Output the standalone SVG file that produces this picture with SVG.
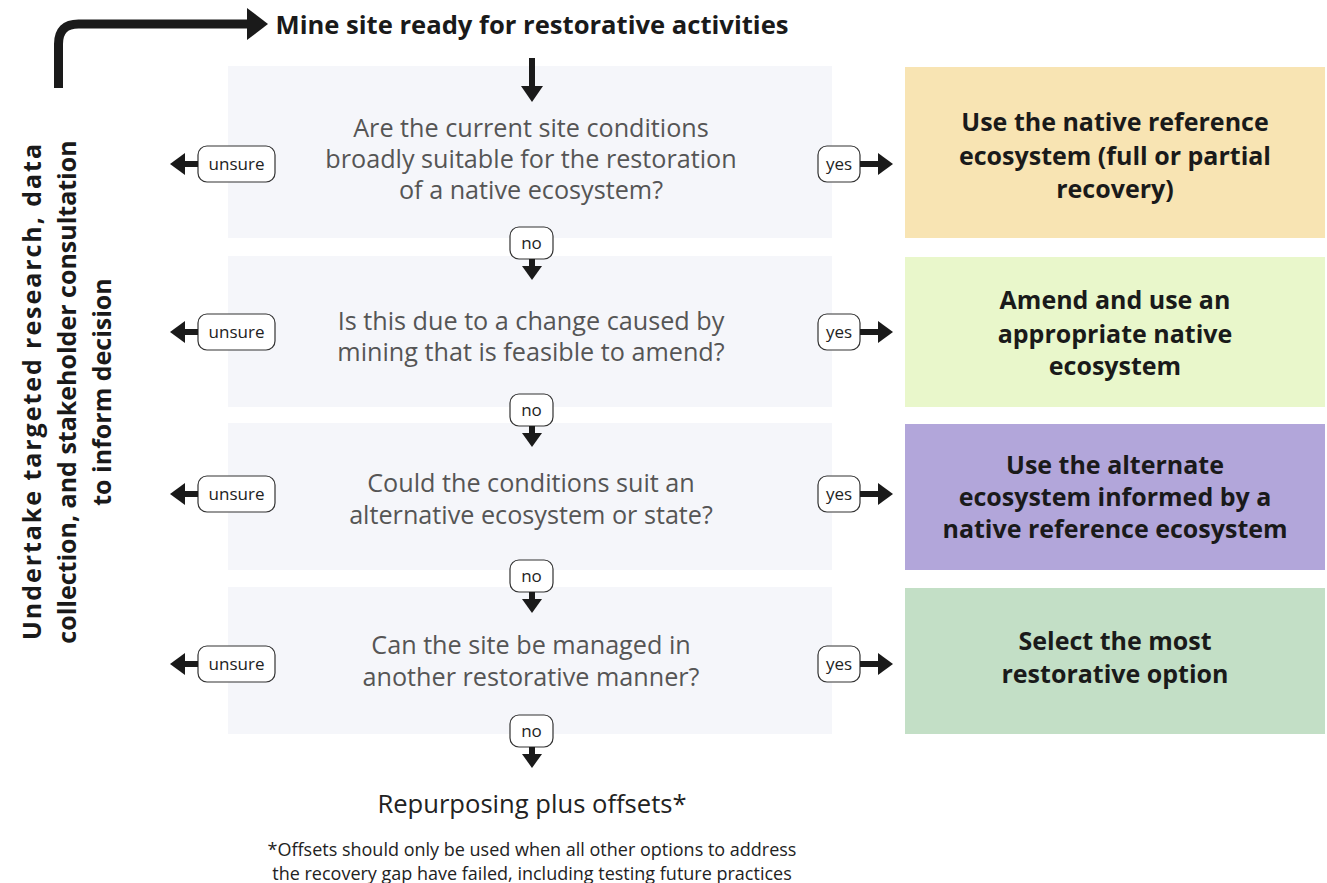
<svg xmlns="http://www.w3.org/2000/svg" width="1327" height="883" viewBox="0 0 1327 883">
  <style>
    .panel { fill: #f5f6fa; }
    .q { font-family: "Open Sans", "Liberation Sans", sans-serif; font-size: 25.2px; fill: #555555; text-anchor: middle; }
    .out { font-family: "Open Sans", "Liberation Sans", sans-serif; font-size: 25px; font-weight: bold; fill: #1a1a1a; text-anchor: middle; }
    .tag { fill: #ffffff; stroke: #333333; stroke-width: 1.2; }
    .tagt { font-family: "Open Sans", "Liberation Sans", sans-serif; font-size: 17px; fill: #222222; text-anchor: middle; }
    .shaft { stroke: #1a1a1a; fill: none; }
    .head { fill: #1a1a1a; }
  </style>

  <!-- Start node -->
  <g id="start">
    <text x="532" y="34" class="out" style="font-size:25.6px">Mine site ready for restorative activities</text>
  </g>

  <!-- Left feedback note -->
  <g id="research">
    <g transform="translate(0,392) rotate(-90)" class="out" style="font-size:25px">
      <text x="0" y="41" textLength="496" lengthAdjust="spacing">Undertake targeted research, data</text>
      <text x="0" y="76">collection, and stakeholder consultation</text>
      <text x="0" y="111">to inform decision</text>
    </g>
  </g>

  <!-- Question panels -->
  <g id="q1">
    <rect class="panel" x="228" y="66" width="604" height="172"/>
    <text class="q" x="531" y="137">Are the current site conditions</text>
    <text class="q" x="531" y="168">broadly suitable for the restoration</text>
    <text class="q" x="531" y="199">of a native ecosystem?</text>
  </g>
  <g id="q2">
    <rect class="panel" x="228" y="256" width="604" height="151"/>
    <text class="q" x="531" y="330">Is this due to a change caused by</text>
    <text class="q" x="531" y="361">mining that is feasible to amend?</text>
  </g>
  <g id="q3">
    <rect class="panel" x="228" y="423" width="604" height="147"/>
    <text class="q" x="531" y="492">Could the conditions suit an</text>
    <text class="q" x="531" y="524">alternative ecosystem or state?</text>
  </g>
  <g id="q4">
    <rect class="panel" x="228" y="587" width="604" height="147"/>
    <text class="q" x="531" y="654">Can the site be managed in</text>
    <text class="q" x="531" y="686">another restorative manner?</text>
  </g>

  <!-- Outcome boxes -->
  <g id="o1">
    <rect x="905" y="67" width="420" height="171" fill="#f8e4b3"/>
    <text class="out" x="1115" y="131">Use the native reference</text>
    <text class="out" x="1115" y="165">ecosystem (full or partial</text>
    <text class="out" x="1115" y="198">recovery)</text>
  </g>
  <g id="o2">
    <rect x="905" y="257" width="420" height="150" fill="#e9f7cb"/>
    <text class="out" x="1115" y="309">Amend and use an</text>
    <text class="out" x="1115" y="343">appropriate native</text>
    <text class="out" x="1115" y="375">ecosystem</text>
  </g>
  <g id="o3">
    <rect x="905" y="424" width="420" height="146" fill="#b2a6da"/>
    <text class="out" x="1115" y="474">Use the alternate</text>
    <text class="out" x="1115" y="506">ecosystem informed by a</text>
    <text class="out" x="1115" y="538">native reference ecosystem</text>
  </g>
  <g id="o4">
    <rect x="905" y="588" width="420" height="146" fill="#c3dfc6"/>
    <text class="out" x="1115" y="650">Select the most</text>
    <text class="out" x="1115" y="683">restorative option</text>
  </g>

  <!-- End node -->
  <g id="end">
    <text x="532" y="813" class="q" style="fill:#222222;font-size:25.6px">Repurposing plus offsets*</text>
    <text x="532" y="856" class="q" style="fill:#222222;font-size:18px">*Offsets should only be used when all other options to address</text>
    <text x="532" y="880" class="q" style="fill:#222222;font-size:18px">the recovery gap have failed, including testing future practices</text>
  </g>

  <!-- Connectors -->
  <g id="connectors">
    <!-- loop back from research note to start -->
    <path class="shaft" stroke-width="9" d="M58.5,88 V44 Q58.5,24 78.5,24 H250"/>
    <polygon class="head" points="247,8 268,24 247,40"/>
    <!-- start to first question -->
    <path class="shaft" stroke-width="6" d="M532,58 V88"/>
    <polygon class="head" points="521,86 543,86 532,102"/>

    <!-- decision tags: unsure (left), yes (right), no (down) -->
    <g id="row1">
      <rect class="tag" x="198" y="146" width="77" height="36" rx="9"/>
      <text class="tagt" x="236.5" y="170">unsure</text>
      <path class="shaft" stroke-width="6" d="M198,164 H183"/>
      <polygon class="head" points="185,153 185,175 170,164"/>
      <rect class="tag" x="818" y="146" width="42" height="36" rx="9"/>
      <text class="tagt" x="839" y="170">yes</text>
      <path class="shaft" stroke-width="6" d="M860,164 H880"/>
      <polygon class="head" points="878,153 878,175 893,164"/>
      <rect class="tag" x="510" y="227" width="43" height="32" rx="9"/>
      <text class="tagt" x="531.5" y="249">no</text>
      <path class="shaft" stroke-width="6" d="M532,259 V268"/>
      <polygon class="head" points="522,266 542,266 532,280"/>
    </g>
    <g id="row2">
      <rect class="tag" x="198" y="314" width="77" height="36" rx="9"/>
      <text class="tagt" x="236.5" y="338">unsure</text>
      <path class="shaft" stroke-width="6" d="M198,332 H183"/>
      <polygon class="head" points="185,321 185,343 170,332"/>
      <rect class="tag" x="818" y="314" width="42" height="36" rx="9"/>
      <text class="tagt" x="839" y="338">yes</text>
      <path class="shaft" stroke-width="6" d="M860,332 H880"/>
      <polygon class="head" points="878,321 878,343 893,332"/>
      <rect class="tag" x="510" y="394" width="43" height="32" rx="9"/>
      <text class="tagt" x="531.5" y="416">no</text>
      <path class="shaft" stroke-width="6" d="M532,426 V435"/>
      <polygon class="head" points="522,433 542,433 532,447"/>
    </g>
    <g id="row3">
      <rect class="tag" x="198" y="476" width="77" height="36" rx="9"/>
      <text class="tagt" x="236.5" y="500">unsure</text>
      <path class="shaft" stroke-width="6" d="M198,494 H183"/>
      <polygon class="head" points="185,483 185,505 170,494"/>
      <rect class="tag" x="818" y="476" width="42" height="36" rx="9"/>
      <text class="tagt" x="839" y="500">yes</text>
      <path class="shaft" stroke-width="6" d="M860,494 H880"/>
      <polygon class="head" points="878,483 878,505 893,494"/>
      <rect class="tag" x="510" y="560" width="43" height="32" rx="9"/>
      <text class="tagt" x="531.5" y="582">no</text>
      <path class="shaft" stroke-width="6" d="M532,592 V601"/>
      <polygon class="head" points="522,599 542,599 532,613"/>
    </g>
    <g id="row4">
      <rect class="tag" x="198" y="646" width="77" height="36" rx="9"/>
      <text class="tagt" x="236.5" y="670">unsure</text>
      <path class="shaft" stroke-width="6" d="M198,664 H183"/>
      <polygon class="head" points="185,653 185,675 170,664"/>
      <rect class="tag" x="818" y="646" width="42" height="36" rx="9"/>
      <text class="tagt" x="839" y="670">yes</text>
      <path class="shaft" stroke-width="6" d="M860,664 H880"/>
      <polygon class="head" points="878,653 878,675 893,664"/>
      <rect class="tag" x="510" y="715" width="43" height="32" rx="9"/>
      <text class="tagt" x="531.5" y="737">no</text>
      <path class="shaft" stroke-width="6" d="M532,747 V756"/>
      <polygon class="head" points="522,754 542,754 532,768"/>
    </g>
  </g>
</svg>
